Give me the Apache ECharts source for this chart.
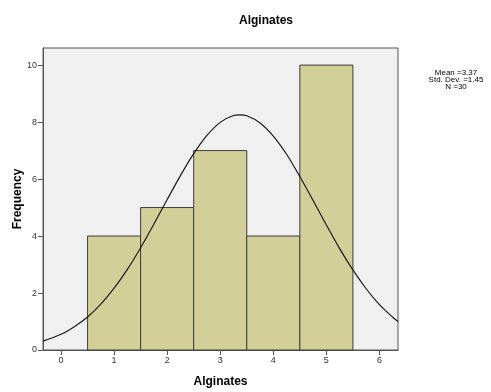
<!DOCTYPE html>
<html>
<head>
<meta charset="utf-8">
<script src="https://cdn.jsdelivr.net/npm/echarts@6/dist/echarts.min.js"></script>
<style>
html,body{margin:0;padding:0;background:#fff;}
#c{width:491px;height:392px;}
</style>
</head>
<body>
<div id="c"></div>
<script>
// Histogram bins
var binStart = [0.5, 1.5, 2.5, 3.5, 4.5];
var binEnd   = [1.5, 2.5, 3.5, 4.5, 5.5];
var freq     = [4, 5, 7, 4, 10];
// Normal curve points (x, frequency)
var curveX = [-0.34, 0, 0.25, 0.5, 0.75, 1, 1.25, 1.5, 1.75, 2, 2.25, 2.5, 2.75, 3, 3.25, 3.37, 3.5, 3.75, 4, 4.25, 4.5, 4.75, 5, 5.25, 5.5, 5.75, 6, 6.25, 6.35];
var curveY = [0.31, 0.55, 0.82, 1.16, 1.61, 2.17, 2.83, 3.59, 4.42, 5.28, 6.12, 6.89, 7.53, 7.99, 8.23, 8.25, 8.22, 7.97, 7.51, 6.87, 6.09, 5.25, 4.39, 3.56, 2.81, 2.15, 1.59, 1.15, 1.00];
var xTicks = [0, 1, 2, 3, 4, 5, 6];
var yTicks = [0, 2, 4, 6, 8, 10];
var statsText = ['Mean =3.37', 'Std. Dev. =1.45', 'N =30'];
var titleText = 'Alginates';
var xName = 'Alginates';
var yName = 'Frequency';

var barData = binStart.map(function (s, i) { return [s, binEnd[i], freq[i]]; });
var curveData = curveX.map(function (x, i) { return [x, curveY[i]]; });

var chart = echarts.init(document.getElementById('c'), null, {renderer: 'canvas'});
var font = 'Liberation Sans, Arial, sans-serif';
chart.setOption({
  animation: false,
  title: {
    text: titleText, left: 261, top: 10, textAlign: 'center',
    textStyle: {fontFamily: font, fontSize: 12, fontWeight: 'bold', color: '#000'}
  },
  graphic: [
    {type: 'text', x: 456, y: 73, style: {text: statsText[0], fill: '#000', font: '8px ' + font, textAlign: 'center', textVerticalAlign: 'middle'}},
    {type: 'text', x: 456, y: 80, style: {text: statsText[1], fill: '#000', font: '8px ' + font, textAlign: 'center', textVerticalAlign: 'middle'}},
    {type: 'text', x: 456, y: 87, style: {text: statsText[2], fill: '#000', font: '8px ' + font, textAlign: 'center', textVerticalAlign: 'middle'}}
  ],
  grid: {
    left: 43, top: 48, right: 93, bottom: 42,
    outerBoundsMode: 'none', containLabel: false,
    show: true, backgroundColor: '#f0f0f0', borderColor: '#555', borderWidth: 1
  },
  xAxis: {
    type: 'value', min: -0.34, max: 6.35,
    name: xName, nameLocation: 'middle', nameGap: 26, nameMoveOverlap: false,
    nameTextStyle: {fontFamily: font, fontSize: 12, fontWeight: 'bold', color: '#000'},
    splitLine: {show: false},
    axisLine: {show: true, onZero: false, lineStyle: {color: '#555', width: 1}},
    axisTick: {show: true, customValues: xTicks, length: 5, lineStyle: {color: '#555'}},
    axisLabel: {customValues: xTicks, fontFamily: font, fontSize: 9, color: '#333', margin: 6}
  },
  yAxis: {
    type: 'value', min: 0, max: 10.6,
    name: yName, nameLocation: 'middle', nameGap: 19, nameRotate: 90, nameMoveOverlap: false,
    nameTextStyle: {fontFamily: font, fontSize: 12, fontWeight: 'bold', color: '#000'},
    splitLine: {show: false},
    axisLine: {show: true, onZero: false, lineStyle: {color: '#555', width: 1}},
    axisTick: {show: true, customValues: yTicks, length: 5, lineStyle: {color: '#555'}},
    axisLabel: {customValues: yTicks, fontFamily: font, fontSize: 9, color: '#333', margin: 6}
  },
  series: [
    {
      type: 'custom',
      data: barData,
      renderItem: function (params, api) {
        var p0 = api.coord([api.value(0), api.value(2)]);
        var p1 = api.coord([api.value(1), 0]);
        return {
          type: 'rect',
          shape: {x: p0[0], y: p0[1], width: p1[0] - p0[0], height: p1[1] - p0[1]},
          style: {fill: '#d3cf98', stroke: '#3c3c3c', lineWidth: 1}
        };
      },
      encode: {x: [0, 1], y: 2},
      z: 2
    },
    {
      type: 'line',
      data: curveData,
      smooth: 0.3,
      showSymbol: false,
      lineStyle: {color: '#1a1a1a', width: 1.2},
      z: 3
    }
  ]
});
</script>
</body>
</html>
